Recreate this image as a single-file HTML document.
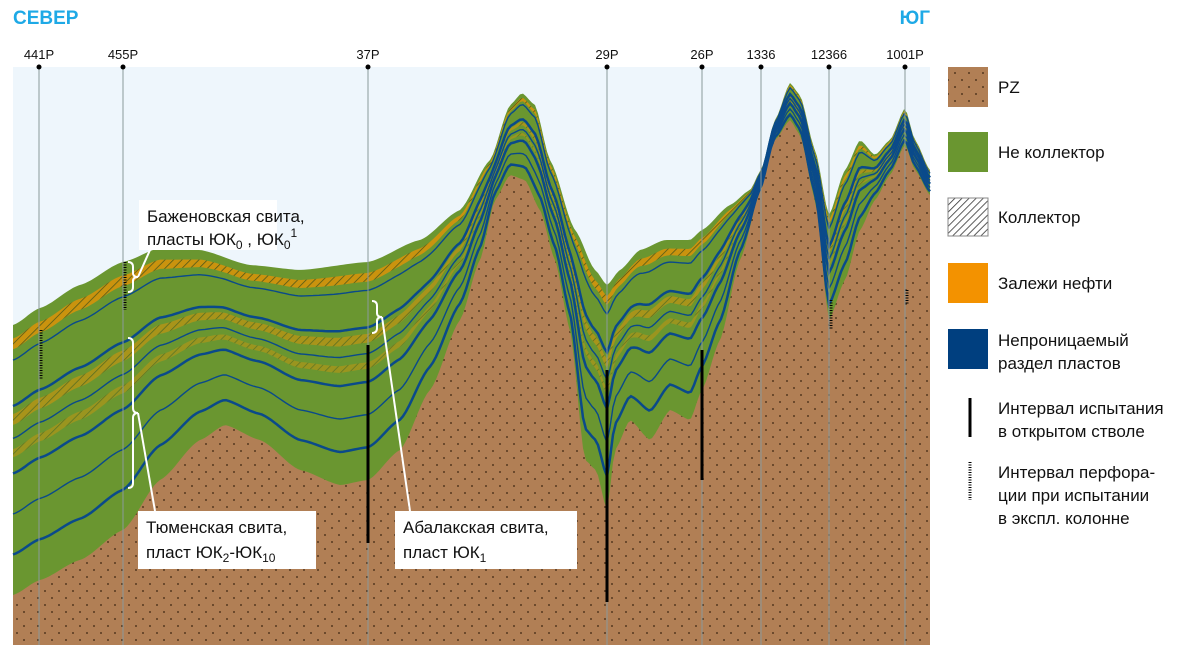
<!DOCTYPE html>
<html><head><meta charset="utf-8">
<style>
html,body{margin:0;padding:0;background:#fff;}
body{width:1200px;height:660px;overflow:hidden;font-family:"Liberation Sans","DejaVu Sans",sans-serif;}
</style></head>
<body>
<svg id="chart" width="1200" height="660" xmlns="http://www.w3.org/2000/svg">
<defs>
<pattern id="dots" width="14" height="14" patternUnits="userSpaceOnUse">
<rect width="14" height="14" fill="#b17f55"/><circle cx="3" cy="3" r="0.9" fill="#3a2410"/><circle cx="10" cy="10" r="0.9" fill="#3a2410"/>
</pattern>
<pattern id="hatch" width="5" height="5" patternUnits="userSpaceOnUse" patternTransform="rotate(45)">
<rect width="5" height="5" fill="#fff"/><line x1="0" y1="0" x2="0" y2="5" stroke="#333" stroke-width="1.6"/>
</pattern>
<pattern id="oilhatch" width="6" height="6" patternUnits="userSpaceOnUse" patternTransform="rotate(45)">
<rect width="6" height="6" fill="#f39200"/><line x1="0" y1="0" x2="0" y2="6" stroke="#3a3a10" stroke-width="1.5"/>
</pattern>
</defs>
<rect x="13" y="67" width="917" height="578" fill="#eef6fc"/>
<g id="layers"></g>
<g id="wells"></g>
<text x="13" y="24" font-size="19" font-weight="bold" fill="#1ea9e6">СЕВЕР</text>
<text x="930" y="24" font-size="19" font-weight="bold" fill="#1ea9e6" text-anchor="end">ЮГ</text>

<g>
<rect x="139" y="200" width="138" height="50" fill="#fff"/>
<text x="147" y="222" font-size="17" fill="#111">Баженовская свита,</text>
<text x="147" y="245" font-size="17" fill="#111">пласты ЮК<tspan font-size="12" dy="4">0</tspan><tspan dy="-4"> , ЮК</tspan><tspan font-size="12" dy="4">0</tspan><tspan font-size="12" dy="-12">1</tspan></text>
<path d="M128,262 q5,0 5,5 v6 q0,4 5,4 q-5,0 -5,4 v6 q0,5 -5,5" fill="none" stroke="#fff" stroke-width="2"/>
<line x1="138" y1="277" x2="150" y2="250" stroke="#fff" stroke-width="2"/>
</g>
<g>
<rect x="138" y="511" width="178" height="58" fill="#fff"/>
<text x="146" y="533" font-size="17" fill="#111">Тюменская свита,</text>
<text x="146" y="558" font-size="17" fill="#111">пласт ЮК<tspan font-size="12" dy="4">2</tspan><tspan dy="-4">-ЮК</tspan><tspan font-size="12" dy="4">10</tspan></text>
<path d="M128,338 q5,0 5,5 v65 q0,5 5,5 q-5,0 -5,5 v65 q0,5 -5,5" fill="none" stroke="#fff" stroke-width="2"/>
<line x1="138" y1="413" x2="155" y2="511" stroke="#fff" stroke-width="2"/>
</g>
<g>
<rect x="395" y="511" width="182" height="58" fill="#fff"/>
<text x="403" y="533" font-size="17" fill="#111">Абалакская свита,</text>
<text x="403" y="558" font-size="17" fill="#111">пласт ЮК<tspan font-size="12" dy="4">1</tspan></text>
<path d="M372,301 q5,0 5,5 v7 q0,4 5,4 q-5,0 -5,4 v7 q0,5 -5,5" fill="none" stroke="#fff" stroke-width="2"/>
<line x1="382" y1="317" x2="410" y2="511" stroke="#fff" stroke-width="2"/>
</g>

<g font-size="17" fill="#111">
<rect x="948" y="67" width="40" height="40" fill="url(#dots)"/>
<text x="998" y="93">PZ</text>
<rect x="948" y="132" width="40" height="40" fill="#6a9630"/>
<text x="998" y="158">Не коллектор</text>
<rect x="948" y="198" width="40" height="38" fill="url(#hatch)" stroke="#888"/>
<text x="998" y="223">Коллектор</text>
<rect x="948" y="263" width="40" height="40" fill="#f39200"/>
<text x="998" y="289">Залежи нефти</text>
<rect x="948" y="329" width="40" height="40" fill="#003f7f"/>
<text x="998" y="346">Непроницаемый</text>
<text x="998" y="369">раздел пластов</text>
<line x1="970" y1="398" x2="970" y2="437" stroke="#000" stroke-width="3"/>
<text x="998" y="414">Интервал испытания</text>
<text x="998" y="437">в открытом стволе</text>
<line x1="970" y1="462" x2="970" y2="500" stroke="#000" stroke-width="3" stroke-dasharray="1 1.5"/>
<text x="998" y="478">Интервал перфора-</text>
<text x="998" y="501">ции при испытании</text>
<text x="998" y="524">в экспл. колонне</text>
</g>
</svg>
<script>
const topX=[13,40,80,123,160,200,250,300,368,420,460,490,510,522,535,550,575,595,607,620,640,665,690,702,730,750,761,775,790,800,815,829,845,860,875,890,905,915,930];
const topY=[325,308,285,262,248,250,265,270,262,240,210,160,105,93,105,160,230,270,285,270,250,240,240,230,205,190,170,120,83,95,150,215,170,140,155,140,108,140,170];
const pzX=[13,40,80,123,160,200,225,260,300,340,368,400,430,460,480,495,510,525,540,555,570,585,596,607,615,630,650,670,690,702,720,740,761,775,790,800,815,829,845,860,875,890,905,915,930];
const pzY=[595,580,560,530,480,440,425,440,470,485,480,450,390,320,260,200,175,180,210,260,330,460,470,510,450,420,440,410,420,390,340,260,190,140,120,135,200,320,280,230,200,175,145,170,195];
const blueFracs=[0.13,0.3,0.42,0.55,0.7,0.85];
const wellNames=["441P","455P","37P","29P","26P","1336","12366","1001P"];
const wellX=[39,123,368,607,702,761,829,905];
const testTop=[null,null,345,370,350,null,null,null];
const testBot=[null,null,543,602,480,null,null,null];
const perfTop=[330,262,null,null,null,null,300,290];
const perfBot=[380,310,null,null,null,null,330,305];
const NS="http://www.w3.org/2000/svg";
function interp(xs,ys,x){for(let i=0;i<xs.length-1;i++){if(x>=xs[i]&&x<=xs[i+1]){const t=(x-xs[i])/(xs[i+1]-xs[i]);const s=t*t*(3-2*t);return ys[i]+(ys[i+1]-ys[i])*(0.5*t+0.5*s);}}return ys[ys.length-1];}
const xs=[];for(let x=13;x<=930;x+=3)xs.push(x);if(xs[xs.length-1]!==930)xs.push(930);
const tY=x=>interp(topX,topY,x), pY=x=>interp(pzX,pzY,x);
function pts(f){return xs.map(x=>x+","+f(x).toFixed(1)).join(" L");}
const g=document.getElementById("layers");
function add(tag,attrs,name){const e=document.createElementNS(NS,tag);for(const k in attrs)e.setAttribute(k,attrs[k]);


g.appendChild(e);return e;}
add("path",{d:"M"+pts(tY)+" L930,645 L13,645 Z",fill:"#6a9630"},"non-collector-layer");
const band=(a,b)=>"M"+pts(x=>tY(x)+(pY(x)-tY(x))*a)+" L"+xs.slice().reverse().map(x=>x+","+(tY(x)+(pY(x)-tY(x))*b).toFixed(1)).join(" L")+" Z";
add("path",{d:band(0.05,0.09),fill:"url(#oilhatch)",opacity:"0.7"},"bazhenov-oil-band");
add("path",{d:band(0.33,0.37),fill:"url(#oilhatch)",opacity:"0.45"},"tyumen-oil-band-1");
add("path",{d:band(0.46,0.49),fill:"url(#oilhatch)",opacity:"0.35"},"tyumen-oil-band-2");
blueFracs.forEach((f,i)=>{add("path",{d:"M"+pts(x=>tY(x)+(pY(x)-tY(x))*f),fill:"none",stroke:"#0a4a8a","stroke-width":i%2?2.5:1.4},"barrier-line-"+(i+1));});
add("path",{d:"M"+pts(pY)+" L930,645 L13,645 Z",fill:"url(#dots)"},"pz-basement");
const w=document.getElementById("wells");
wellX.forEach((x,i)=>{
const l=document.createElementNS(NS,"line");l.setAttribute("x1",x);l.setAttribute("x2",x);l.setAttribute("y1",67);l.setAttribute("y2",645);l.setAttribute("stroke","#8a9a9a");l.setAttribute("stroke-width","1");


w.appendChild(l);
const c=document.createElementNS(NS,"circle");c.setAttribute("cx",x);c.setAttribute("cy",67);c.setAttribute("r",2.5);c.setAttribute("fill","#000");


w.appendChild(c);
const t=document.createElementNS(NS,"text");t.setAttribute("x",x);t.setAttribute("y",59);t.setAttribute("text-anchor","middle");t.setAttribute("font-size","13");t.setAttribute("fill","#111");t.textContent=wellNames[i];


w.appendChild(t);
if(testTop[i]!==null){const s=document.createElementNS(NS,"line");s.setAttribute("x1",x);s.setAttribute("x2",x);s.setAttribute("y1",testTop[i]);s.setAttribute("y2",testBot[i]);s.setAttribute("stroke","#000");s.setAttribute("stroke-width","3");


w.appendChild(s);}
if(perfTop[i]!==null){const p=document.createElementNS(NS,"line");p.setAttribute("x1",x+2);p.setAttribute("x2",x+2);p.setAttribute("y1",perfTop[i]);p.setAttribute("y2",perfBot[i]);p.setAttribute("stroke","#000");p.setAttribute("stroke-width","3");p.setAttribute("stroke-dasharray","1 1.5");


w.appendChild(p);}
});
</script>
</body></html>
